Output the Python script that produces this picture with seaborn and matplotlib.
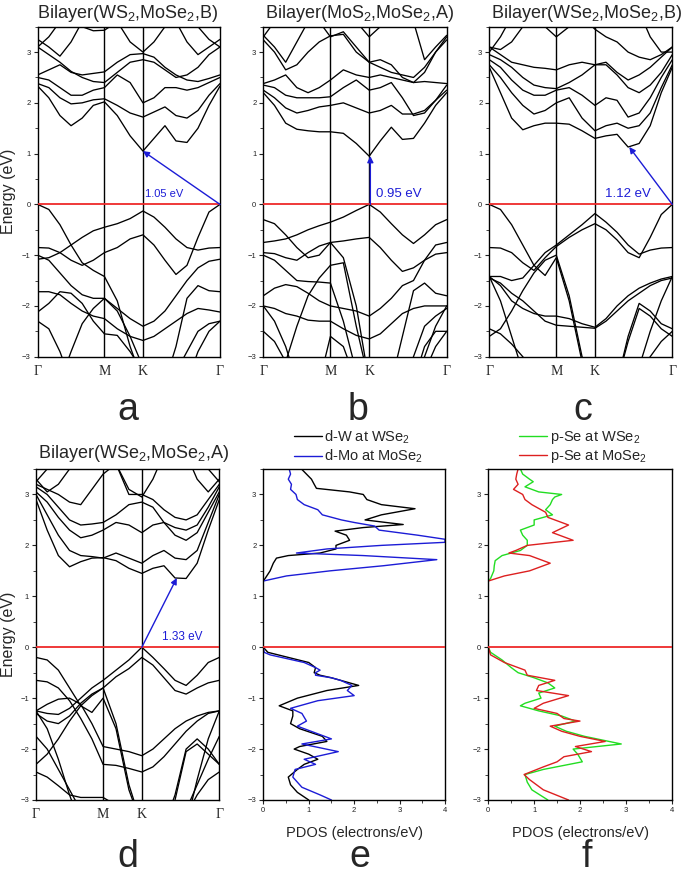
import numpy as np
import pandas as pd
import matplotlib
matplotlib.use("Agg")
import matplotlib.pyplot as plt
from matplotlib.ticker import MultipleLocator
import seaborn as sns

sns.set_theme(style="ticks")
plt.rcParams['font.family'] = ['Liberation Sans', 'DejaVu Sans']
plt.rcParams['mathtext.fontset'] = 'custom'
plt.rcParams['mathtext.rm'] = 'Liberation Sans'
plt.rcParams['mathtext.it'] = 'Liberation Sans'
plt.rcParams['mathtext.bf'] = 'Liberation Sans'

# ---------------- k-path ----------------
KLABELS = ["Γ", "M", "K", "Γ"]
SEG_LEN = [1 / np.sqrt(3), 1 / 3, 2 / 3]
SEG_N = [6, 3, 7]

# ---------------- panel a : Bilayer(WS2,MoSe2,B) ----------------
A_C1 = [2.33, 2.1, 1.75, 1.55, 1.7, 1.95, 2.02, 1.75, 1.35, 1.05, 1.3, 1.55, 1.25, 1.22, 1.5, 1.95, 2.33]
A_C2 = [2.38, 2.3, 2.1, 1.98, 2.0, 2.06, 2.08, 1.95, 1.8, 1.72, 1.82, 1.92, 1.75, 1.7, 1.85, 2.15, 2.38]
A_C3 = [2.5, 2.45, 2.3, 2.15, 2.15, 2.25, 2.3, 2.55, 2.4, 2.0, 2.1, 2.3, 2.3, 2.25, 2.3, 2.4, 2.5]
A_C4 = [2.55, 2.65, 2.75, 2.6, 2.55, 2.58, 2.61, 2.8, 2.95, 2.97, 2.9, 2.7, 2.55, 2.45, 2.42, 2.48, 2.55]
A_C5 = [3.1, 2.95, 2.8, 2.62, 2.5, 2.42, 2.4, 2.6, 2.8, 2.85, 2.8, 2.65, 2.5, 2.55, 2.7, 2.95, 3.1]
A_C6 = [3.25, 3.1, 2.92, 3.2, 3.6, 3.8, 4.0, 4.0, 4.0, 4.0, 4.0, 3.9, 3.6, 3.2, 2.95, 3.1, 3.25]
A_C7 = [3.1, 3.3, 3.6, 4.0, 4.0, 4.0, 4.0, 4.0, 4.0, 4.0, 4.0, 4.0, 4.0, 3.8, 3.5, 3.25, 3.1]
A_C8 = [4.0, 4.0, 3.9, 3.7, 3.5, 3.42, 3.43, 3.6, 3.2, 3.0, 3.2, 3.5, 3.8, 4.0, 4.0, 4.0, 4.0]
A_V1 = [0.0, -0.1, -0.4, -0.8, -1.15, -1.3, -1.42, -1.9, -2.8, -3.5, -3.5, -3.5, -2.8, -1.85, -1.6, -1.7, -1.72]
A_V2 = [-1.08, -1.05, -0.95, -0.8, -0.65, -0.52, -0.45, -0.38, -0.28, -0.13, -0.25, -0.45, -0.68, -0.85, -0.9, -0.86, -0.85]
A_V3 = [-0.85, -0.86, -0.95, -1.1, -1.2, -1.1, -0.95, -0.85, -0.68, -0.6, -0.8, -1.1, -1.38, -1.2, -0.65, -0.15, 0.0]
A_V4 = [-1.0, -1.1, -1.35, -1.6, -1.78, -1.85, -1.85, -2.05, -2.25, -2.4, -2.3, -2.1, -1.8, -1.5, -1.25, -1.12, -1.08]
A_V5 = [-1.72, -1.72, -1.78, -1.95, -2.1, -2.2, -2.25, -2.45, -2.6, -2.68, -2.6, -2.45, -2.3, -2.15, -2.05, -2.08, -2.12]
A_V6 = [-2.12, -1.95, -1.72, -1.75, -1.95, -2.3, -2.55, -2.58, -2.9, -3.3, -3.5, -3.5, -3.3, -2.9, -2.5, -2.35, -2.3]
A_V7 = [-2.3, -2.45, -2.9, -3.5, -3.5, -3.5, -3.5, -3.5, -3.5, -3.5, -3.5, -3.5, -3.5, -3.5, -2.9, -2.5, -2.3]
A_V8 = [-3.5, -3.5, -3.5, -2.9, -2.35, -2.05, -1.85, -2.1, -2.6, -3.2, -3.5, -3.5, -3.5, -3.5, -3.5, -3.5, -3.5]

# ---------------- panel b : Bilayer(MoS2,MoSe2,A) ----------------
B_C1 = [2.2, 1.95, 1.6, 1.48, 1.45, 1.43, 1.43, 1.4, 1.2, 0.95, 1.25, 1.52, 1.28, 1.3, 1.6, 1.95, 2.2]
B_C2 = [2.25, 2.1, 1.9, 1.8, 1.85, 1.92, 1.95, 2.0, 1.9, 1.8, 1.85, 1.95, 1.78, 1.78, 1.85, 2.05, 2.25]
B_C3 = [2.35, 2.3, 2.15, 2.1, 2.1, 2.1, 2.12, 2.3, 2.45, 2.25, 2.3, 2.4, 2.1, 1.75, 1.8, 2.05, 2.35]
B_C4 = [2.38, 2.45, 2.55, 2.3, 2.2, 2.3, 2.45, 2.65, 2.55, 2.5, 2.55, 2.5, 2.45, 2.4, 2.42, 2.4, 2.38]
B_C5 = [3.24, 3.0, 2.65, 2.75, 3.0, 3.2, 3.32, 3.35, 3.0, 2.8, 2.7, 2.6, 2.55, 2.5, 2.7, 3.0, 3.24]
B_C6 = [3.33, 3.1, 2.8, 3.2, 3.6, 4.0, 4.0, 4.0, 3.6, 3.3, 3.5, 4.0, 4.0, 3.6, 2.85, 3.1, 3.33]
B_C7 = [3.3, 3.6, 4.0, 4.0, 4.0, 3.6, 3.3, 3.4, 3.1, 2.8, 2.85, 2.75, 2.5, 2.4, 2.6, 3.0, 3.3]
B_V1 = [-0.3, -0.38, -0.6, -0.85, -1.05, -1.0, -0.75, -1.05, -2.0, -3.5, -3.5, -3.5, -2.6, -1.7, -1.55, -1.75, -1.8]
B_V2 = [-0.75, -0.72, -0.68, -0.6, -0.5, -0.42, -0.35, -0.25, -0.12, 0.0, -0.15, -0.38, -0.6, -0.77, -0.6, -0.4, -0.3]
B_V3 = [-0.95, -0.97, -1.05, -1.1, -0.95, -0.82, -0.75, -0.72, -0.68, -0.65, -0.85, -1.1, -1.32, -1.25, -1.1, -0.98, -0.95]
B_V4 = [-1.8, -1.65, -1.58, -1.62, -1.75, -1.9, -2.0, -2.05, -2.1, -2.2, -2.05, -1.85, -1.6, -1.5, -1.1, -0.8, -0.75]
B_V5 = [-2.0, -2.05, -2.15, -2.2, -2.28, -2.3, -2.3, -2.45, -2.58, -2.65, -2.55, -2.35, -2.15, -2.05, -2.0, -2.0, -2.0]
B_V6 = [-3.5, -3.5, -3.1, -2.4, -1.8, -1.45, -1.2, -1.15, -2.4, -3.5, -3.5, -3.5, -3.5, -3.0, -2.4, -2.2, -2.05]
B_V7 = [-1.0, -1.1, -1.3, -1.5, -1.52, -1.53, -1.55, -2.3, -3.3, -3.5, -3.5, -3.5, -3.5, -3.5, -2.8, -2.5, -2.5]
B_V8 = [-2.0, -2.3, -2.8, -3.5, -3.5, -3.5, -3.5, -3.5, -3.5, -3.5, -3.5, -3.5, -3.5, -3.5, -3.0, -2.4, -2.0]
B_V9 = [-2.5, -2.7, -3.1, -3.5, -3.5, -3.5, -2.6, -2.8, -3.5, -3.5, -3.5, -3.5, -3.5, -3.5, -3.3, -2.8, -2.5]

# ---------------- panel c : Bilayer(WSe2,MoSe2,B) ----------------
C_C1 = [2.7, 2.2, 1.7, 1.47, 1.55, 1.6, 1.6, 1.58, 1.45, 1.3, 1.35, 1.38, 1.13, 1.2, 1.55, 2.2, 2.7]
C_C2 = [2.75, 2.5, 2.2, 1.95, 1.78, 1.85, 2.0, 2.1, 1.7, 1.45, 1.55, 1.6, 1.5, 1.55, 1.8, 2.3, 2.75]
C_C3 = [2.85, 2.7, 2.45, 2.25, 2.15, 2.15, 2.25, 2.3, 2.15, 1.95, 2.1, 2.05, 1.72, 1.8, 2.1, 2.5, 2.85]
C_C4 = [2.95, 2.85, 2.7, 2.5, 2.35, 2.3, 2.28, 2.4, 2.55, 2.75, 2.75, 2.55, 2.3, 2.2, 2.35, 2.6, 2.95]
C_C5 = [3.1, 2.95, 2.8, 2.75, 2.7, 2.68, 2.65, 2.75, 2.8, 2.75, 2.8, 2.6, 2.45, 2.55, 2.7, 2.9, 3.1]
C_C6 = [3.1, 3.05, 3.2, 3.5, 3.8, 4.0, 4.0, 4.0, 3.7, 3.45, 3.3, 3.2, 3.0, 2.9, 2.85, 2.95, 3.1]
C_C7 = [3.0, 3.3, 3.7, 4.0, 4.0, 3.5, 3.3, 3.5, 4.0, 4.0, 4.0, 4.0, 4.0, 3.8, 3.3, 3.0, 3.0]
C_V1 = [0.0, -0.1, -0.4, -0.8, -1.2, -1.4, -1.05, -1.9, -3.1, -3.5, -3.5, -3.5, -2.6, -1.95, -2.1, -2.35, -2.45]
C_V2 = [-1.42, -1.42, -1.5, -1.45, -1.2, -0.95, -0.8, -0.6, -0.4, -0.18, -0.35, -0.55, -0.8, -0.98, -0.9, -0.86, -0.85]
C_V3 = [-0.85, -0.86, -0.95, -1.15, -1.3, -1.05, -0.83, -0.65, -0.5, -0.38, -0.5, -0.7, -0.95, -1.05, -0.65, -0.2, 0.0]
C_V4 = [-1.42, -1.6, -1.9, -2.05, -2.15, -2.2, -2.2, -2.25, -2.35, -2.42, -2.25, -2.0, -1.8, -1.65, -1.55, -1.47, -1.42]
C_V5 = [-1.45, -1.55, -1.75, -1.9, -2.1, -2.3, -2.38, -2.4, -2.42, -2.44, -2.3, -2.1, -1.9, -1.75, -1.6, -1.5, -1.45]
C_V6 = [-1.42, -1.9, -2.6, -3.3, -3.5, -3.5, -3.5, -3.5, -3.5, -3.5, -3.5, -3.5, -3.5, -3.2, -2.5, -1.9, -1.42]
C_V7 = [-2.6, -2.45, -2.1, -1.7, -1.35, -1.1, -1.0, -1.8, -3.0, -3.5, -3.5, -3.5, -2.7, -2.05, -2.2, -2.45, -2.6]
C_V8 = [-2.45, -2.55, -2.75, -3.0, -3.3, -3.5, -3.5, -3.5, -3.5, -3.5, -3.5, -3.5, -3.5, -3.3, -3.0, -2.7, -2.5]

# ---------------- panel d : Bilayer(WSe2,MoSe2,A) ----------------
D_C1 = [2.9, 2.3, 1.8, 1.58, 1.68, 1.75, 1.76, 1.7, 1.55, 1.45, 1.55, 1.6, 1.36, 1.35, 1.65, 2.3, 2.9]
D_C2 = [3.0, 2.6, 2.2, 1.9, 1.8, 1.78, 1.75, 1.85, 1.75, 1.65, 1.8, 1.9, 1.75, 1.72, 1.9, 2.45, 3.0]
D_C3 = [3.05, 2.85, 2.55, 2.3, 2.15, 2.2, 2.3, 2.45, 2.4, 2.25, 2.4, 2.45, 2.2, 2.1, 2.25, 2.65, 3.05]
D_C4 = [3.15, 3.0, 2.75, 2.5, 2.4, 2.42, 2.45, 2.6, 2.8, 2.85, 2.75, 2.45, 2.35, 2.3, 2.4, 2.75, 3.15]
D_C5 = [3.2, 3.1, 3.0, 2.85, 2.8, 3.1, 3.4, 3.6, 3.0, 3.0, 2.9, 2.7, 2.55, 2.5, 2.6, 2.9, 3.2]
D_C6 = [3.3, 3.05, 3.2, 3.5, 3.8, 4.0, 4.0, 4.0, 4.0, 3.6, 3.7, 4.0, 4.0, 3.8, 3.3, 3.05, 3.3]
D_C7 = [3.25, 3.5, 3.9, 4.0, 4.0, 4.0, 4.0, 4.0, 4.0, 4.0, 4.0, 4.0, 4.0, 4.0, 3.9, 3.5, 3.25]
D_C8 = [4.0, 4.0, 4.0, 4.0, 4.0, 4.0, 4.0, 3.6, 3.1, 2.95, 3.3, 3.8, 4.0, 4.0, 4.0, 4.0, 4.0]
D_V1 = [-0.2, -0.25, -0.45, -0.8, -1.15, -1.28, -1.0, -1.6, -2.8, -3.5, -3.5, -3.5, -2.9, -2.0, -1.8, -2.0, -2.3]
D_V2 = [-1.25, -1.3, -1.32, -1.2, -1.0, -0.8, -0.65, -0.45, -0.25, 0.0, -0.2, -0.42, -0.65, -0.75, -0.55, -0.3, -0.2]
D_V3 = [-1.3, -1.45, -1.5, -1.35, -1.1, -0.92, -0.8, -0.58, -0.42, -0.2, -0.35, -0.6, -0.85, -0.92, -0.8, -0.7, -0.65]
D_V4 = [-1.25, -1.12, -1.02, -1.0, -1.12, -1.5, -1.95, -2.0, -2.05, -2.13, -2.0, -1.8, -1.6, -1.45, -1.35, -1.28, -1.25]
D_V5 = [-0.65, -0.68, -0.8, -1.05, -1.4, -1.8, -2.3, -2.32, -2.38, -2.45, -2.35, -2.15, -1.9, -1.65, -1.45, -1.3, -1.25]
D_V6 = [-1.25, -1.6, -2.2, -2.9, -3.5, -3.5, -3.5, -3.5, -3.5, -3.5, -3.5, -3.5, -3.5, -3.5, -2.6, -1.8, -1.25]
D_V7 = [-2.3, -2.1, -1.8, -1.45, -1.15, -0.95, -0.8, -1.5, -2.7, -3.5, -3.5, -3.5, -3.0, -2.05, -1.9, -2.1, -2.3]
D_V8 = [-2.45, -2.55, -2.72, -2.9, -2.95, -2.95, -2.95, -3.1, -3.5, -3.5, -3.5, -3.5, -3.5, -3.3, -2.9, -2.6, -2.45]
D_V9 = [-1.75, -2.0, -2.4, -2.8, -3.2, -3.5, -3.5, -3.5, -3.5, -3.5, -3.5, -3.5, -3.5, -3.2, -2.7, -2.2, -1.75]

# ---------------- panel e : PDOS d-W / d-Mo ----------------
E_DW_E = [3.5, 3.4, 3.3, 3.2, 3.12, 3.05, 3.0, 2.9, 2.8, 2.72, 2.6, 2.5, 2.45, 2.41, 2.35, 2.28, 2.2, 2.1,
          2.0, 1.93, 1.85, 1.8, 1.75, 1.65, 1.5, 1.35, 1.3, 0.0, -0.1, -0.2, -0.3, -0.4, -0.5, -0.55, -0.6,
          -0.7, -0.75, -0.85, -1.0, -1.15, -1.25, -1.35, -1.5, -1.6, -1.75, -1.85, -1.95, -2.0, -2.1, -2.2,
          -2.3, -2.4, -2.55, -2.7, -2.85, -3.0]
E_DW_P = [0.84, 0.95, 1.06, 1.12, 1.17, 1.9, 2.2, 2.28, 2.6, 3.34, 2.6, 2.24, 2.7, 3.08, 2.2, 1.58, 1.83, 1.9,
          1.6, 1.6, 1.25, 0.55, 0.29, 0.22, 0.15, 0.04, 0.0, 0.0, 0.1, 0.55, 1.0, 1.15, 1.12, 1.25, 1.5,
          1.9, 2.1, 1.4, 0.75, 0.35, 0.65, 0.65, 0.6, 0.8, 1.3, 1.4, 0.8, 0.68, 1.0, 1.2,
          0.9, 0.75, 0.55, 0.6, 0.75, 1.0]
E_DMO_E = [3.5, 3.4, 3.3, 3.2, 3.1, 3.0, 2.9, 2.8, 2.7, 2.6, 2.5, 2.45, 2.38, 2.3, 2.2, 2.12, 2.06, 2.0, 1.93,
           1.85, 1.8, 1.72, 1.6, 1.5, 1.4, 1.3, 0.0, -0.1, -0.15, -0.2, -0.3, -0.4, -0.45, -0.5, -0.55, -0.6,
           -0.65, -0.75, -0.85, -0.95, -1.05, -1.2, -1.3, -1.45, -1.55, -1.7, -1.8, -1.9, -2.05, -2.2, -2.3,
           -2.4, -2.55, -2.75, -2.9, -3.0]
E_DMO_P = [0.57, 0.6, 0.55, 0.62, 0.6, 0.72, 0.75, 0.9, 1.2, 1.3, 1.72, 2.0, 2.45, 2.55, 3.4, 4.0, 4.0, 2.6, 1.4,
           0.73, 2.2, 3.82, 2.64, 1.47, 0.51, 0.0, 0.0, 0.02, 0.15, 0.4, 0.9, 1.15, 1.25, 1.15, 1.15, 1.5,
           1.7, 1.95, 1.85, 2.0, 1.2, 0.6, 0.85, 0.95, 0.75, 1.2, 1.5, 0.85, 1.65, 0.9, 1.15,
           0.7, 0.65, 0.85, 1.25, 1.5]

# ---------------- panel f : PDOS p-Se ----------------
F_SEW_E = [3.5, 3.4, 3.3, 3.25, 3.15, 3.05, 3.0, 2.95, 2.9, 2.8, 2.7, 2.6, 2.55, 2.5, 2.4, 2.3, 2.2, 2.1, 2.0,
           1.9, 1.8, 1.7, 1.6, 1.5, 1.35, 1.3, 0.0, -0.1, -0.25, -0.4, -0.5, -0.6, -0.7, -0.8, -0.9, -1.0,
           -1.1, -1.15, -1.25, -1.35, -1.45, -1.55, -1.65, -1.75, -1.9, -2.0, -2.1, -2.25, -2.4, -2.5, -2.65,
           -2.8, -3.0]
F_SEW_P = [0.7, 0.75, 0.9, 0.98, 0.8, 1.1, 1.6, 1.45, 1.4, 1.35, 1.25, 1.4, 1.2, 1.0, 1.0, 0.7, 0.75, 0.85, 0.85,
           0.7, 0.3, 0.15, 0.13, 0.12, 0.05, 0.0, 0.0, 0.05, 0.3, 0.5, 0.65, 1.0, 1.3, 1.45, 1.1, 1.15,
           0.8, 0.7, 1.1, 1.6, 1.9, 1.45, 1.7, 2.1, 2.9, 1.85, 1.95, 2.05, 1.2, 0.8, 0.85,
           0.95, 1.3]
F_SEMO_E = [3.5, 3.4, 3.3, 3.2, 3.1, 3.0, 2.9, 2.8, 2.65, 2.55, 2.4, 2.25, 2.1, 2.0, 1.9, 1.85, 1.8, 1.65, 1.5,
            1.4, 1.3, 0.0, -0.15, -0.3, -0.45, -0.55, -0.65, -0.75, -0.85, -0.95, -1.1, -1.2, -1.3, -1.4,
            -1.45, -1.55, -1.65, -1.75, -1.85, -1.95, -2.05, -2.15, -2.25, -2.35, -2.5, -2.6, -2.8, -3.0]
F_SEMO_P = [0.65, 0.62, 0.6, 0.65, 0.55, 0.75, 0.8, 0.95, 1.25, 1.3, 1.75, 1.4, 1.85, 0.85, 0.6, 0.45, 0.9, 1.35,
            0.9, 0.35, 0.0, 0.0, 0.05, 0.35, 0.8, 0.85, 1.45, 1.1, 1.05, 1.75, 1.2, 1.0, 1.5, 1.65,
            2.0, 1.35, 1.6, 2.0, 2.55, 1.9, 2.25, 1.65, 1.5, 1.2, 0.78, 0.9, 1.2, 1.75]

TITLES = ["Bilayer(WS$_2$,MoSe$_2$,B)", "Bilayer(MoS$_2$,MoSe$_2$,A)",
          "Bilayer(WSe$_2$,MoSe$_2$,B)", "Bilayer(WSe$_2$,MoSe$_2$,A)"]
GAPS = ["1.05 eV", "0.95 eV", "1.12 eV", "1.33 eV"]
LETTERS = ["a", "b", "c", "d", "e", "f"]
E_LABELS = ["d-W at WSe$_2$", "d-Mo at MoSe$_2$"]
F_LABELS = ["p-Se at WSe$_2$", "p-Se at MoSe$_2$"]

# ---------------- helpers ----------------
k_pts = [np.linspace(0, SEG_LEN[0], SEG_N[0] + 1)]
k_pts.append(np.linspace(SEG_LEN[0], SEG_LEN[0] + SEG_LEN[1], SEG_N[1] + 1)[1:])
k_pts.append(np.linspace(SEG_LEN[0] + SEG_LEN[1], sum(SEG_LEN), SEG_N[2] + 1)[1:])
KGRID = np.concatenate(k_pts)
KSYM = [0, SEG_LEN[0], SEG_LEN[0] + SEG_LEN[1], sum(SEG_LEN)]

BLUE = "#1c1cd6"
RED = "#ee2a2a"
W, H = 685, 877


def rect(l, r, t, b):
    return [l / W, 1 - b / H, (r - l) / W, (b - t) / H]


def band_df(bands):
    rows = []
    for i, b in enumerate(bands):
        for k, e in zip(KGRID, b):
            rows.append((i, k, e))
    return pd.DataFrame(rows, columns=["band", "k", "E"])


def style_y(ax):
    ax.set_ylim(-3, 3.5)
    ax.set_yticks([-3, -2, -1, 0, 1, 2, 3])
    ax.yaxis.set_minor_locator(MultipleLocator(0.5))
    ax.tick_params(axis="y", which="major", direction="out", length=3, width=0.8,
                   labelsize=5.5, pad=2, colors="#222222")
    ax.tick_params(axis="y", which="minor", direction="out", length=2, width=0.6)
    for s in ax.spines.values():
        s.set_visible(True)
        s.set_color("black")
        s.set_linewidth(1.0)
    ax.set_ylabel("")


def band_panel(ax, bands):
    df = band_df(bands)
    sns.lineplot(data=df, x="k", y="E", units="band", estimator=None, sort=False,
                 color="black", lw=0.95, ax=ax, legend=False)
    for kk in KSYM[1:3]:
        ax.axvline(kk, color="black", lw=1.0)
    ax.axhline(0, color=RED, lw=1.3, zorder=6)
    ax.set_xlim(KSYM[0], KSYM[-1])
    ax.set_xticks(KSYM)
    ax.set_xticklabels(KLABELS, fontfamily="Liberation Serif", fontsize=10)
    ax.tick_params(axis="x", length=0, pad=6)
    ax.set_xlabel("")
    style_y(ax)


def pdos_panel(ax, curves, labels, colors):
    for (e, p), lab, c in zip(curves, labels, colors):
        sns.lineplot(x=p, y=e, sort=False, estimator=None, color=c, lw=1.0, ax=ax,
                     label=lab, orient="y")
    ax.axhline(0, color=RED, lw=1.3, zorder=6)
    ax.set_xlim(0, 4)
    ax.set_xticks([0, 1, 2, 3, 4])
    ax.xaxis.set_minor_locator(MultipleLocator(0.5))
    ax.tick_params(axis="x", which="major", direction="out", length=3, width=0.8,
                   labelsize=5.5, pad=2, colors="#222222")
    ax.tick_params(axis="x", which="minor", direction="out", length=2, width=0.6)
    ax.set_xlabel("PDOS (electrons/eV)", fontsize=10.5, labelpad=9)
    style_y(ax)
    ax.legend(loc="lower left", bbox_to_anchor=(0.12, 0.985), frameon=False, fontsize=10.5,
              handlelength=1.9, handletextpad=0.2, labelspacing=0.15, borderpad=0.1)


fig = plt.figure(figsize=(6.85, 8.77), dpi=100)

axa = fig.add_axes(rect(37.7, 220, 26.7, 356.7))
axb = fig.add_axes(rect(263.3, 446.7, 26.7, 356.7))
axc = fig.add_axes(rect(489.3, 672.3, 26.7, 356.7))
axd = fig.add_axes(rect(36, 219.3, 469, 800))
axe = fig.add_axes(rect(263.3, 445, 469, 800))
axf = fig.add_axes(rect(488.3, 671.7, 469, 800))

band_panel(axa, [A_C1, A_C2, A_C3, A_C4, A_C5, A_C6, A_C7, A_C8,
                 A_V1, A_V2, A_V3, A_V4, A_V5, A_V6, A_V7, A_V8])
band_panel(axb, [B_C1, B_C2, B_C3, B_C4, B_C5, B_C6, B_C7,
                 B_V1, B_V2, B_V3, B_V4, B_V5, B_V6, B_V7, B_V8, B_V9])
band_panel(axc, [C_C1, C_C2, C_C3, C_C4, C_C5, C_C6, C_C7,
                 C_V1, C_V2, C_V3, C_V4, C_V5, C_V6, C_V7, C_V8])
band_panel(axd, [D_C1, D_C2, D_C3, D_C4, D_C5, D_C6, D_C7, D_C8,
                 D_V1, D_V2, D_V3, D_V4, D_V5, D_V6, D_V7, D_V8, D_V9])

pdos_panel(axe, [(E_DW_E, E_DW_P), (E_DMO_E, E_DMO_P)], E_LABELS, ["black", BLUE])
pdos_panel(axf, [(F_SEW_E, F_SEW_P), (F_SEMO_E, F_SEMO_P)], F_LABELS, ["#22dd22", "#dd2020"])

# gap arrows
kG, kK = KSYM[3], KSYM[2]
aprops = dict(arrowstyle="-|>", color=BLUE, lw=1.0, mutation_scale=9, shrinkA=0, shrinkB=0)
axa.annotate("", xy=(kK, A_C1[9]), xytext=(kG, 0.0), arrowprops=aprops, zorder=7)
axa.text(kK + 0.02, 0.1, GAPS[0], color=BLUE, fontsize=8, va="bottom", ha="left")
axb.annotate("", xy=(kK + 0.01, B_C1[9]), xytext=(kK + 0.01, 0.0), arrowprops=aprops, zorder=7)
axb.text(kK + 0.06, 0.08, GAPS[1], color=BLUE, fontsize=9.5, va="bottom", ha="left")
kc = KGRID[12] + 0.01
axc.annotate("", xy=(kc, C_C1[12]), xytext=(kG, 0.0), arrowprops=aprops, zorder=7)
axc.text(kK + 0.09, 0.08, GAPS[2], color=BLUE, fontsize=9.5, va="bottom", ha="left")
kd = KGRID[12] + 0.015
axd.annotate("", xy=(kd, D_C1[12]), xytext=(kK, 0.0), arrowprops=aprops, zorder=7)
axd.text(kK + 0.17, 0.08, GAPS[3], color=BLUE, fontsize=8.5, va="bottom", ha="left")

# titles
for x, y, t in [(128, 13, TITLES[0]), (360, 13, TITLES[1]), (587, 13, TITLES[2]), (134, 453, TITLES[3])]:
    fig.text(x / W, 1 - y / H, t, fontsize=13, ha="center", va="center")

# panel letters
for x, y, t in [(128, 420, "a"), (358, 420, "b"), (583, 420, "c"),
                (128, 867, "d"), (360, 867, "e"), (587, 867, "f")]:
    fig.text(x / W, 1 - y / H, t, fontsize=27, ha="center", va="baseline")

# energy labels
for yc in [191.7, 634.5]:
    fig.text(9 / W, 1 - yc / H, "Energy (eV)", fontsize=11.5, rotation=90, ha="center", va="center")

fig.savefig("out.png", dpi=100)
